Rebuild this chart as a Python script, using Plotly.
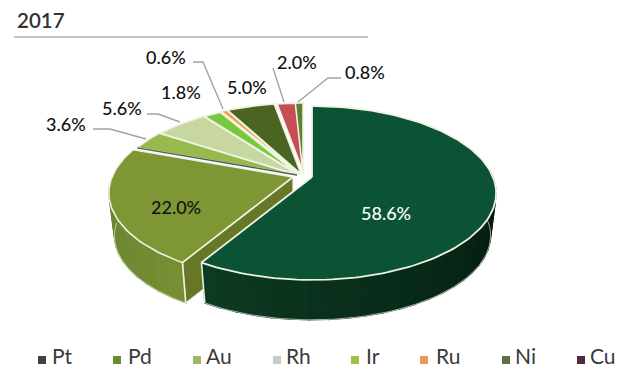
import math
import plotly.graph_objects as go

# Platinum-group metal shares for 2017
categories = ["Pt", "Pd", "Au", "Rh", "Ir", "Ru", "Ni", "Cu", "Other"]
shares = [58.6, 22.0, 3.6, 5.6, 1.8, 0.6, 5.0, 2.0, 0.8]
year_title = "2017"

# Styling per slice
top_colors = ["#0c5335", "#7f9635", "#98b94c", "#c8d7a0", "#76c93c", "#ee9a46", "#4a6421", "#c84c54", "#5f8030"]
legend_colors = ["#3c4240", "#6a8a34", "#9db868", "#c9cdc4", "#9cc24a", "#e89a4e", "#5f6f4a", "#4f2a3a"]
apex_px = [(312, 177), (293, 177), (297, 175), (298, 175), (299, 175),
           (300, 174), (301, 174), (304, 174), (303, 174)]

# Drawing geometry for the tilted disc
RX, RY, PERSP = 181, 84, 0.184
FLOOR_DY, FLOOR_SCALE = 43, 0.97
EDGE = "#eef3e2"


def rim(angle_deg, apex, floor=False):
    """Project a clockwise-from-north angle onto the disc's rim, in pixels."""
    a = math.radians(angle_deg)
    u, v = math.sin(a), math.cos(a)
    s = 1 / (1 + PERSP * v)
    dx, dy = RX * u * s, -RY * v * s
    if floor:
        return apex[0] + dx * FLOOR_SCALE, apex[1] + FLOOR_DY + dy * FLOOR_SCALE
    return apex[0] + dx, apex[1] + dy


def arc(a0, a1, apex, floor=False):
    n = max(2, int(abs(a1 - a0) / 1.5))
    return [rim(a0 + (a1 - a0) * i / n, apex, floor) for i in range(n + 1)]


def blend(c0, c1, t):
    p = [int(c0[i:i + 2], 16) for i in (1, 3, 5)]
    q = [int(c1[i:i + 2], 16) for i in (1, 3, 5)]
    return "#%02x%02x%02x" % tuple(round(x + (y - x) * t) for x, y in zip(p, q))


fig = go.Figure()


def poly(points, fill, line=None, width=0):
    xs, ys = zip(*points)
    fig.add_trace(go.Scatter(
        x=list(xs) + [xs[0]], y=list(ys) + [ys[0]], mode="lines", fill="toself",
        fillcolor=fill, line=dict(color=line or fill, width=width if line else 1.2),
        hoverinfo="skip", showlegend=False))


def stroke(points, color, width):
    xs, ys = zip(*points)
    fig.add_trace(go.Scatter(x=list(xs), y=list(ys), mode="lines",
                             line=dict(color=color, width=width),
                             hoverinfo="skip", showlegend=False))


def side_wall(a0, a1, apex, c0, c1):
    """Outer wall of a slice between two angles, shaded in small bands."""
    steps = max(1, int(abs(a1 - a0) / 5))
    for i in range(steps):
        s0 = a0 + (a1 - a0) * i / steps
        s1 = a0 + (a1 - a0) * (i + 1) / steps
        poly(arc(s0, s1, apex) + arc(s1, s0, apex, True), blend(c0, c1, i / max(1, steps - 1)))


# Slice angles, clockwise from north
edges = [0.0]
for share in shares:
    edges.append(edges[-1] + share * 3.6)

# Small slices along the back of the disc
for i in range(2, len(shares)):
    pts = [apex_px[i]] + arc(edges[i], edges[i + 1], apex_px[i])
    poly(pts, top_colors[i], EDGE, 1.6)
stroke([apex_px[2], rim(edges[2], apex_px[2])], "#4c5c58", 1.3)

# Palladium: inner cut face, outer wall, then top
pd_apex = apex_px[1]
corner = edges[1]
poly([pd_apex, rim(corner, pd_apex), rim(corner, pd_apex, True),
      (pd_apex[0], pd_apex[1] + FLOOR_DY)], "#667826", EDGE, 1.2)
side_wall(268, corner, pd_apex, "#688030", "#768f33")
stroke(arc(268, corner, pd_apex, True), "#d5dcc0", 0.8)
stroke([rim(corner, pd_apex), rim(corner, pd_apex, True)], EDGE, 1.6)
poly([pd_apex] + arc(edges[1], edges[2], pd_apex), top_colors[1], EDGE, 1.6)

# Platinum: outer wall, then top
pt_apex = apex_px[0]
side_wall(corner, 85, pt_apex, "#0d3a22", "#03170d")
stroke(arc(corner, 85, pt_apex, True), "#e4e8e2", 0.7)
stroke([rim(corner, pt_apex), rim(corner, pt_apex, True)], EDGE, 1.6)
poly([pt_apex] + arc(edges[0], edges[1], pt_apex), top_colors[0], EDGE, 1.8)

# Leader lines from outside labels to their slices
leaders = {
    "Au": [(93, 129), (110, 129), (146, 139)],
    "Rh": [(147, 114), (158, 114), (180, 122)],
    "Ru": [(193, 62), (203, 62), (223, 109)],
    "Cu": [(273, 68), (284, 102)],
    "Other": [(341, 78), (328, 78), (298, 102)],
}
for path in leaders.values():
    stroke(path, "#a3a3a3", 1.4)

# Value labels
label_px = [(386, 213), (176, 207), (66, 124), (122, 108), (181, 92),
            (166, 57), (247, 87), (297, 62), (365, 72)]
label_colors = ["#ffffff"] + ["#111111"] * 8
annotations = []
for share, (lx, ly), color in zip(shares, label_px, label_colors):
    annotations.append(dict(x=lx, y=ly, text=f"{share:.1f}%", showarrow=False, xref="x", yref="y",
                            xanchor="center", yanchor="middle",
                            font=dict(family="Lato", size=18, color=color, weight=500)))

# Title and rule
annotations.append(dict(x=15, y=20, text=year_title, showarrow=False, xref="x", yref="y",
                        xanchor="left", yanchor="middle",
                        font=dict(family="Lato", size=20.5, color="#333333", weight=600)))
stroke([(14, 37), (368, 37)], "#c2c2c2", 2)

# Legend row, spaced unevenly along the bottom
legend_marker_x = [42, 117, 197, 277, 355, 424, 506, 581]
legend_text_x = [51, 127, 205, 285, 365, 435, 514, 589]
LEGEND_Y = 369
fig.add_trace(go.Scatter(x=legend_marker_x, y=[360] * 8, mode="markers",
                         marker=dict(symbol="square", size=8, color=legend_colors),
                         hoverinfo="skip", showlegend=False))
for name, tx in zip(categories[:8], legend_text_x):
    annotations.append(dict(x=tx, y=LEGEND_Y, text=name, showarrow=False, xref="x", yref="y",
                            xanchor="left", yanchor="bottom", borderpad=0,
                            font=dict(family="Lato", size=21, color="#3a3a3a")))

fig.update_layout(
    width=617, height=369, margin=dict(l=0, r=0, t=0, b=0),
    paper_bgcolor="white", plot_bgcolor="white", showlegend=False,
    xaxis=dict(range=[0, 617], visible=False, fixedrange=True),
    yaxis=dict(range=[369, 0], visible=False, fixedrange=True),
    annotations=annotations,
)
fig.write_html("out.html", config=dict(displayModeBar=False))
